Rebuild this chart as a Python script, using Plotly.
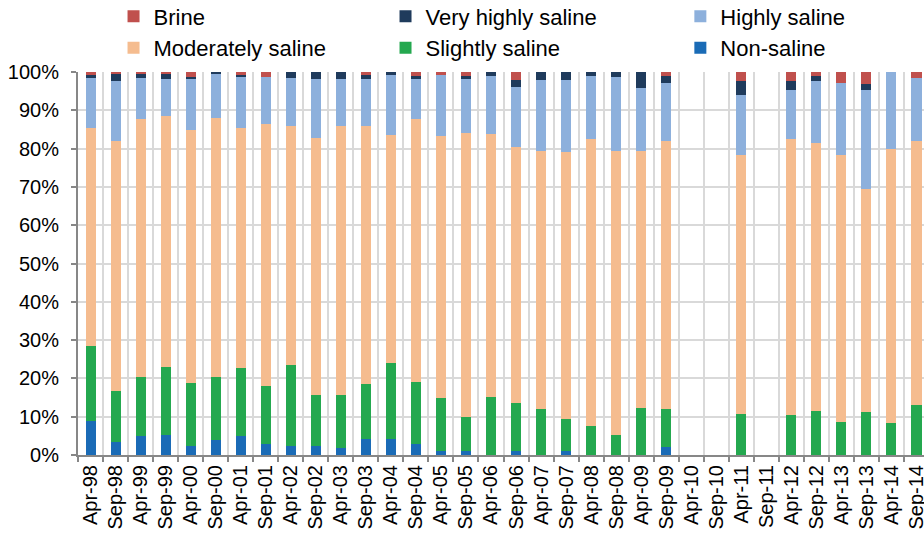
import plotly.graph_objects as go

periods = ["Apr-98", "Sep-98", "Apr-99", "Sep-99", "Apr-00", "Sep-00", "Apr-01", "Sep-01",
           "Apr-02", "Sep-02", "Apr-03", "Sep-03", "Apr-04", "Sep-04", "Apr-05", "Sep-05",
           "Apr-06", "Sep-06", "Apr-07", "Sep-07", "Apr-08", "Sep-08", "Apr-09", "Sep-09",
           "Apr-10", "Sep-10", "Apr-11", "Sep-11", "Apr-12", "Sep-12", "Apr-13", "Sep-13",
           "Apr-14", "Sep-14"]

# share of samples (%) in each salinity class; None = no sampling that round
non_saline = [9.0, 3.5, 5.0, 5.3, 2.4, 4.0, 5.0, 3.0, 2.3, 2.4, 1.7, 4.3, 4.1, 2.8, 1.0, 1.0,
              0, 1.0, 0, 1.0, 0, 0, 0, 2.0, None, None, 0, None, 0, 0, 0, 0, 0, 0]
slightly_saline = [19.4, 13.2, 15.3, 17.7, 16.4, 16.3, 17.7, 15.0, 21.2, 13.3, 14.0, 14.3,
                   19.8, 16.2, 13.8, 8.8, 15.2, 12.7, 11.9, 8.5, 7.7, 5.2, 12.3, 10.1,
                   None, None, 10.8, None, 10.5, 11.6, 8.7, 11.3, 8.4, 13.0]
moderately_saline = [57.0, 65.2, 67.3, 65.4, 66.0, 67.8, 62.6, 68.5, 62.3, 67.0, 70.1, 67.3,
                     59.6, 68.7, 68.4, 74.4, 68.5, 66.6, 67.4, 69.5, 74.7, 74.1, 67.2, 69.8,
                     None, None, 67.5, None, 71.9, 69.9, 69.6, 58.1, 71.6, 68.9]
highly_saline = [13.0, 15.8, 10.8, 9.8, 13.4, 11.4, 13.4, 12.1, 12.7, 15.6, 12.5, 12.4,
                 15.7, 10.5, 15.9, 13.9, 15.3, 15.8, 18.5, 19.0, 16.6, 19.4, 16.4, 15.1,
                 None, None, 15.8, None, 13.0, 16.2, 18.8, 25.8, 20.0, 16.5]
very_highly_saline = [0.7, 1.8, 1.1, 1.3, 0.6, 0.5, 0.6, 0, 1.5, 1.7, 1.7, 0.8, 0.8, 0.8,
                      0, 0.9, 1.0, 1.9, 2.2, 2.0, 1.0, 1.3, 4.1, 2.0, None, None, 3.6, None,
                      2.3, 1.3, 0, 1.7, 0, 0]
brine = [0.9, 0.5, 0.5, 0.5, 1.2, 0, 0.7, 1.4, 0, 0, 0, 0.9, 0, 1.0, 0.9, 1.0, 0, 2.0, 0, 0,
         0, 0, 0, 1.0, None, None, 2.3, None, 2.3, 1.0, 2.9, 3.1, 0, 1.6]

# (name, values, colour, legend column)
series = [
    ("Non-saline", non_saline, "#1A6BB6", "legend3"),
    ("Slightly saline", slightly_saline, "#24A84F", "legend2"),
    ("Moderately saline", moderately_saline, "#F5BC8F", "legend"),
    ("Highly saline", highly_saline, "#8DB0DC", "legend3"),
    ("Very highly saline", very_highly_saline, "#1F3B5C", "legend2"),
    ("Brine", brine, "#C0504D", "legend"),
]

fig = go.Figure()
for name, vals, color, leg in series:
    fig.add_trace(go.Bar(x=periods, y=vals, name=name, marker_color=color,
                         marker_line_width=0, legend=leg))

font = "Liberation Sans, Arial, sans-serif"
axis_grey = "#878787"
grid_grey = "#D9D9D9"


def legend_col(x):
    return dict(orientation="v", traceorder="reversed", x=x, y=1.2,
                xanchor="left", yanchor="top", bgcolor="rgba(0,0,0,0)",
                font=dict(size=22, family=font))


fig.update_layout(
    width=924, height=537,
    barmode="stack", bargap=0.6,
    plot_bgcolor="white", paper_bgcolor="white",
    margin=dict(l=78, r=0, t=72, b=82, autoexpand=False),
    font=dict(family=font, color="black"),
    legend=legend_col(0.042),
    legend2=legend_col(0.3635),
    legend3=legend_col(0.712),
)
fig.update_xaxes(
    type="category", range=[-0.5, 33.3], automargin=False,
    tickson="boundaries", showgrid=True, gridcolor=grid_grey, gridwidth=2,
    showline=True, linecolor=axis_grey, linewidth=2,
    ticks="outside", ticklen=5, tickwidth=2, tickcolor=axis_grey,
    tickangle=-90, tickfont=dict(size=20, family=font),
)
fig.update_yaxes(
    range=[0, 100], dtick=10, ticksuffix="%", automargin=False,
    showgrid=True, gridcolor=grid_grey, gridwidth=2,
    showline=True, linecolor=axis_grey, linewidth=2,
    ticks="outside", ticklen=5, tickwidth=2, tickcolor=axis_grey,
    tickfont=dict(size=20, family=font), ticklabelstandoff=8, zeroline=False,
)

fig.write_html("out.html", config={"displayModeBar": False},
               post_script="document.body.style.margin='0px';")
